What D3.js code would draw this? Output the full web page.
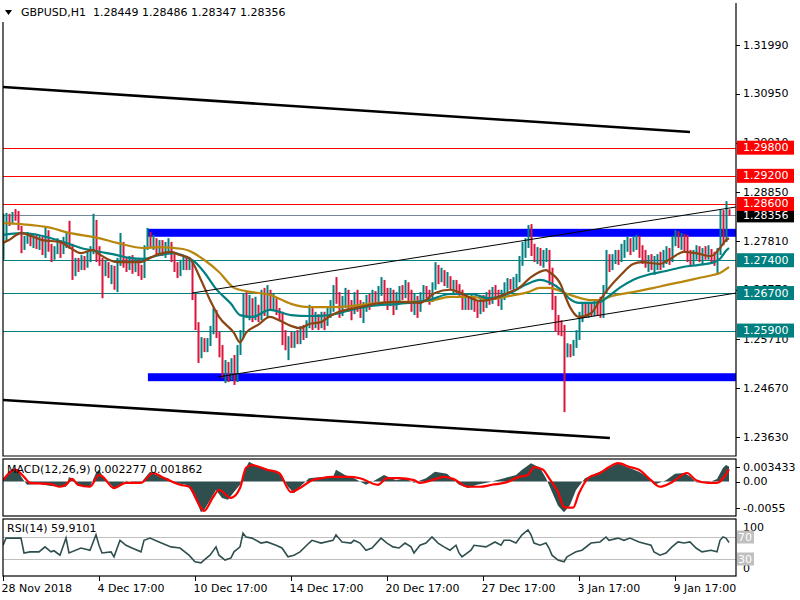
<!DOCTYPE html>
<html><head><meta charset="utf-8">
<script src="https://cdn.jsdelivr.net/npm/d3@7"></script>
<style>
body{margin:0;background:#fff}
svg{display:block}
text{font-family:"DejaVu Sans",sans-serif;font-size:11px}
</style>
</head><body>
<svg id="c" width="800" height="600"></svg>
<script>
// ---------- DATA ----------
const symbolTitle = "GBPUSD,H1  1.28449 1.28486 1.28347 1.28356";
const macdTitle = "MACD(12,26,9) 0.002277 0.001862";
const rsiTitle = "RSI(14) 59.9101";
const timeLabels = ["28 Nov 2018","4 Dec 17:00","10 Dec 17:00","14 Dec 17:00","20 Dec 17:00","27 Dec 17:00","3 Jan 17:00","9 Jan 17:00"];
const timeLabelBars = [0,32,64,96,128,160,192,224];
const priceTicks = [1.31990,1.30950,1.29910,1.28850,1.27810,1.26770,1.25710,1.24670,1.23630];
const redLevels = [1.29800,1.29200,1.28600];
const tealLevels = [1.27400,1.26700,1.25900];
const bidPrice = 1.28356;
// blue zones: [upper price, lower price, start bar]
const zones = [[1.2807,1.2790,48.3],[1.2499,1.2482,48.3]];
// trend lines: [[bar, price],[bar, price], thick?]
const trendLines = [
  [[0,1.31094],[229,1.30135],1],
  [[0,1.24419],[202.3,1.23609],1],
  [[63,1.2670],[244.3,1.28535],0],
  [[71.7,1.2491],[244.3,1.2670],0]
];
// candles [open, high, low, close], one per 3 chart pixels
const candles = [
[1.2751,1.2839,1.2741,1.2783],[1.2783,1.2841,1.2779,1.2830],[1.2830,1.2839,1.2813,1.2822],[1.2822,1.2843,1.2817,1.2837],[1.2837,1.2849,1.2824,1.2830],
[1.2830,1.2845,1.2804,1.2809],[1.2809,1.2813,1.2755,1.2766],[1.2766,1.2792,1.2762,1.2783],[1.2783,1.2800,1.2775,1.2792],[1.2792,1.2798,1.2770,1.2779],
[1.2779,1.2796,1.2766,1.2787],[1.2787,1.2794,1.2764,1.2772],[1.2772,1.2792,1.2762,1.2783],[1.2783,1.2790,1.2751,1.2762],[1.2762,1.2809,1.2745,1.2800],
[1.2800,1.2804,1.2758,1.2766],[1.2766,1.2775,1.2736,1.2749],[1.2749,1.2770,1.2741,1.2762],[1.2762,1.2787,1.2753,1.2775],[1.2775,1.2783,1.2745,1.2758],
[1.2758,1.2790,1.2753,1.2779],[1.2779,1.2798,1.2766,1.2787],[1.2787,1.2824,1.2764,1.2770],[1.2770,1.2775,1.2698,1.2715],[1.2715,1.2745,1.2706,1.2736],
[1.2736,1.2745,1.2715,1.2724],[1.2724,1.2751,1.2719,1.2741],[1.2741,1.2749,1.2719,1.2728],[1.2728,1.2758,1.2724,1.2749],[1.2749,1.2770,1.2736,1.2762],
[1.2762,1.2839,1.2753,1.2822],[1.2822,1.2826,1.2736,1.2762],[1.2762,1.2770,1.2728,1.2736],[1.2736,1.2745,1.2659,1.2719],[1.2719,1.2741,1.2706,1.2732],
[1.2732,1.2736,1.2702,1.2715],[1.2715,1.2730,1.2689,1.2724],[1.2724,1.2728,1.2677,1.2693],[1.2693,1.2745,1.2672,1.2736],[1.2736,1.2798,1.2728,1.2775],
[1.2775,1.2779,1.2724,1.2736],[1.2736,1.2745,1.2715,1.2728],[1.2728,1.2749,1.2719,1.2741],[1.2741,1.2751,1.2711,1.2724],[1.2724,1.2745,1.2715,1.2736],
[1.2736,1.2745,1.2706,1.2719],[1.2719,1.2730,1.2698,1.2711],[1.2711,1.2772,1.2702,1.2766],[1.2766,1.2809,1.2762,1.2787],[1.2787,1.2800,1.2766,1.2775],
[1.2775,1.2794,1.2762,1.2783],[1.2783,1.2787,1.2753,1.2766],[1.2766,1.2783,1.2751,1.2775],[1.2775,1.2783,1.2749,1.2762],[1.2762,1.2779,1.2745,1.2770],
[1.2770,1.2787,1.2758,1.2775],[1.2775,1.2779,1.2736,1.2745],[1.2745,1.2758,1.2715,1.2728],[1.2728,1.2736,1.2702,1.2715],[1.2715,1.2741,1.2706,1.2732],
[1.2732,1.2751,1.2719,1.2741],[1.2741,1.2749,1.2719,1.2728],[1.2728,1.2747,1.2719,1.2736],[1.2736,1.2741,1.2655,1.2664],[1.2664,1.2668,1.2591,1.2602],
[1.2602,1.2608,1.2521,1.2538],[1.2538,1.2576,1.2531,1.2570],[1.2570,1.2574,1.2544,1.2553],[1.2553,1.2574,1.2544,1.2565],[1.2565,1.2600,1.2557,1.2591],
[1.2591,1.2638,1.2582,1.2630],[1.2630,1.2634,1.2574,1.2580],[1.2580,1.2587,1.2533,1.2544],[1.2544,1.2559,1.2489,1.2501],[1.2501,1.2527,1.2478,1.2516],
[1.2516,1.2523,1.2480,1.2495],[1.2495,1.2531,1.2484,1.2510],[1.2510,1.2538,1.2474,1.2489],[1.2489,1.2559,1.2480,1.2548],[1.2548,1.2591,1.2538,1.2580],
[1.2580,1.2670,1.2574,1.2659],[1.2659,1.2672,1.2617,1.2634],[1.2634,1.2666,1.2612,1.2651],[1.2651,1.2659,1.2608,1.2621],[1.2621,1.2662,1.2612,1.2634],
[1.2634,1.2645,1.2608,1.2617],[1.2617,1.2677,1.2612,1.2655],[1.2655,1.2681,1.2621,1.2630],[1.2630,1.2687,1.2617,1.2664],[1.2664,1.2677,1.2634,1.2645],
[1.2645,1.2668,1.2634,1.2655],[1.2655,1.2659,1.2623,1.2630],[1.2630,1.2638,1.2612,1.2621],[1.2621,1.2630,1.2559,1.2574],[1.2574,1.2591,1.2548,1.2559],
[1.2559,1.2578,1.2527,1.2570],[1.2570,1.2587,1.2553,1.2559],[1.2559,1.2587,1.2553,1.2578],[1.2578,1.2591,1.2561,1.2570],[1.2570,1.2600,1.2561,1.2587],
[1.2587,1.2602,1.2570,1.2578],[1.2578,1.2612,1.2574,1.2602],[1.2602,1.2645,1.2595,1.2634],[1.2634,1.2638,1.2591,1.2608],[1.2608,1.2630,1.2595,1.2617],
[1.2617,1.2625,1.2591,1.2604],[1.2604,1.2630,1.2595,1.2621],[1.2621,1.2630,1.2591,1.2608],[1.2608,1.2638,1.2600,1.2625],[1.2625,1.2655,1.2617,1.2642],
[1.2642,1.2687,1.2630,1.2677],[1.2677,1.2704,1.2647,1.2655],[1.2655,1.2672,1.2617,1.2634],[1.2634,1.2664,1.2621,1.2651],[1.2651,1.2681,1.2638,1.2668],
[1.2668,1.2677,1.2630,1.2642],[1.2642,1.2655,1.2612,1.2630],[1.2630,1.2672,1.2625,1.2655],[1.2655,1.2677,1.2630,1.2642],[1.2642,1.2655,1.2617,1.2630],
[1.2630,1.2651,1.2606,1.2638],[1.2638,1.2666,1.2630,1.2655],[1.2655,1.2668,1.2634,1.2647],[1.2647,1.2677,1.2642,1.2664],[1.2664,1.2674,1.2645,1.2655],
[1.2655,1.2685,1.2651,1.2677],[1.2677,1.2704,1.2664,1.2689],[1.2689,1.2698,1.2651,1.2664],[1.2664,1.2681,1.2634,1.2655],[1.2655,1.2681,1.2642,1.2668],
[1.2668,1.2677,1.2623,1.2642],[1.2642,1.2672,1.2634,1.2659],[1.2659,1.2685,1.2651,1.2672],[1.2672,1.2687,1.2655,1.2664],[1.2664,1.2698,1.2659,1.2685],
[1.2685,1.2693,1.2647,1.2659],[1.2659,1.2677,1.2630,1.2642],[1.2642,1.2668,1.2623,1.2655],[1.2655,1.2664,1.2617,1.2634],[1.2634,1.2672,1.2630,1.2664],
[1.2664,1.2687,1.2655,1.2677],[1.2677,1.2685,1.2659,1.2668],[1.2668,1.2677,1.2645,1.2659],[1.2659,1.2693,1.2651,1.2681],[1.2681,1.2736,1.2677,1.2715],
[1.2715,1.2730,1.2689,1.2702],[1.2702,1.2724,1.2693,1.2711],[1.2711,1.2719,1.2685,1.2693],[1.2693,1.2715,1.2681,1.2702],[1.2702,1.2706,1.2677,1.2685],
[1.2685,1.2698,1.2668,1.2693],[1.2693,1.2698,1.2668,1.2681],[1.2681,1.2689,1.2664,1.2672],[1.2672,1.2677,1.2634,1.2647],[1.2647,1.2664,1.2634,1.2655],
[1.2655,1.2662,1.2634,1.2642],[1.2642,1.2668,1.2634,1.2659],[1.2659,1.2664,1.2630,1.2647],[1.2647,1.2655,1.2617,1.2634],[1.2634,1.2664,1.2625,1.2655],
[1.2655,1.2666,1.2630,1.2647],[1.2647,1.2672,1.2638,1.2664],[1.2664,1.2677,1.2645,1.2655],[1.2655,1.2683,1.2647,1.2672],[1.2672,1.2687,1.2655,1.2664],
[1.2664,1.2677,1.2642,1.2651],[1.2651,1.2677,1.2634,1.2664],[1.2664,1.2693,1.2655,1.2681],[1.2681,1.2702,1.2672,1.2689],[1.2689,1.2700,1.2677,1.2685],
[1.2685,1.2704,1.2677,1.2693],[1.2693,1.2711,1.2681,1.2702],[1.2702,1.2749,1.2693,1.2736],[1.2736,1.2779,1.2728,1.2762],[1.2762,1.2787,1.2745,1.2783],
[1.2783,1.2815,1.2766,1.2804],[1.2804,1.2817,1.2749,1.2762],[1.2762,1.2775,1.2736,1.2745],[1.2745,1.2768,1.2732,1.2758],[1.2758,1.2766,1.2728,1.2741],
[1.2741,1.2762,1.2724,1.2749],[1.2749,1.2766,1.2736,1.2758],[1.2758,1.2762,1.2687,1.2715],[1.2715,1.2724,1.2634,1.2655],[1.2655,1.2664,1.2587,1.2617],
[1.2617,1.2623,1.2580,1.2602],[1.2602,1.2612,1.2578,1.2591],[1.2591,1.2602,1.2416,1.2544],[1.2544,1.2563,1.2533,1.2553],[1.2553,1.2561,1.2533,1.2544],
[1.2544,1.2570,1.2536,1.2561],[1.2561,1.2591,1.2553,1.2578],[1.2578,1.2630,1.2570,1.2617],[1.2617,1.2649,1.2608,1.2634],[1.2634,1.2647,1.2617,1.2625],
[1.2625,1.2651,1.2617,1.2638],[1.2638,1.2651,1.2621,1.2630],[1.2630,1.2655,1.2621,1.2642],[1.2642,1.2655,1.2621,1.2634],[1.2634,1.2662,1.2617,1.2625],
[1.2625,1.2687,1.2617,1.2677],[1.2677,1.2762,1.2668,1.2749],[1.2749,1.2753,1.2715,1.2732],[1.2732,1.2753,1.2719,1.2745],[1.2745,1.2762,1.2732,1.2753],
[1.2753,1.2762,1.2730,1.2741],[1.2741,1.2775,1.2736,1.2762],[1.2762,1.2783,1.2745,1.2770],[1.2770,1.2790,1.2758,1.2783],[1.2783,1.2787,1.2751,1.2766],
[1.2766,1.2790,1.2758,1.2779],[1.2779,1.2794,1.2762,1.2787],[1.2787,1.2792,1.2745,1.2762],[1.2762,1.2772,1.2732,1.2749],[1.2749,1.2762,1.2724,1.2736],
[1.2736,1.2751,1.2715,1.2745],[1.2745,1.2753,1.2719,1.2728],[1.2728,1.2749,1.2709,1.2736],[1.2736,1.2753,1.2719,1.2749],[1.2749,1.2758,1.2719,1.2732],
[1.2732,1.2762,1.2724,1.2745],[1.2745,1.2770,1.2732,1.2753],[1.2753,1.2766,1.2730,1.2741],[1.2741,1.2792,1.2736,1.2783],[1.2783,1.2804,1.2770,1.2792],
[1.2792,1.2802,1.2766,1.2779],[1.2779,1.2798,1.2762,1.2787],[1.2787,1.2796,1.2758,1.2770],[1.2770,1.2794,1.2736,1.2749],[1.2749,1.2762,1.2726,1.2736],
[1.2736,1.2762,1.2730,1.2753],[1.2753,1.2772,1.2741,1.2762],[1.2762,1.2770,1.2736,1.2749],[1.2749,1.2766,1.2730,1.2758],[1.2758,1.2770,1.2741,1.2749],
[1.2749,1.2772,1.2741,1.2762],[1.2762,1.2764,1.2736,1.2749],[1.2749,1.2758,1.2728,1.2736],[1.2736,1.2766,1.2709,1.2762],[1.2762,1.2847,1.2751,1.2843],
[1.2843,1.2847,1.2772,1.2783],[1.2783,1.2866,1.2779,1.2845],[1.28449,1.28486,1.28347,1.28356]
];
// moving averages [bar, price]
const maFast = [[0,1.2777],[2,1.2783],[6,1.2798],[10,1.2790],[13,1.2783],[19,1.2779],[22,1.2768],[26,1.2755],[30,1.2762],[32,1.2753],[38,1.2736],[41,1.2736],[46,1.2736],[49,1.2745],[52,1.2753],[56,1.2758],[59,1.2751],[62,1.2745],[66,1.2698],[69,1.2655],[72,1.2619],[77,1.2585],[79,1.2565],[81,1.2585],[85,1.2602],[89,1.2619],[92,1.2612],[96,1.2600],[99,1.2595],[102,1.2604],[106,1.2608],[109,1.2621],[112,1.2630],[119,1.2640],[126,1.2649],[132,1.2651],[139,1.2649],[144,1.2670],[149,1.2677],[152,1.2672],[156,1.2659],[159,1.2653],[164,1.2659],[169,1.2672],[172,1.2681],[176,1.2704],[181,1.2719],[182,1.2715],[186,1.2687],[187,1.2670],[189,1.2640],[192,1.2619],[196,1.2627],[199,1.2655],[202,1.2681],[206,1.2709],[210,1.2732],[213,1.2736],[219,1.2732],[222,1.2741],[227,1.2758],[231,1.2755],[236,1.2749],[239,1.2766],[241,1.2783],[242,1.2787]];
const maMid = [[0,1.2794],[6,1.2798],[10,1.2796],[16,1.2787],[21,1.2777],[26,1.2766],[32,1.2758],[38,1.2751],[42,1.2745],[47,1.2743],[52,1.2751],[57,1.2755],[61,1.2747],[64,1.2736],[67,1.2715],[71,1.2679],[76,1.2647],[79,1.2623],[83,1.2619],[89,1.2634],[96,1.2623],[102,1.2621],[109,1.2623],[116,1.2634],[122,1.2642],[132,1.2647],[142,1.2655],[149,1.2668],[156,1.2668],[162,1.2659],[169,1.2670],[174,1.2687],[179,1.2698],[182,1.2693],[186,1.2677],[189,1.2657],[192,1.2649],[196,1.2649],[199,1.2651],[202,1.2664],[206,1.2683],[210,1.2698],[215,1.2709],[221,1.2717],[227,1.2726],[232,1.2730],[237,1.2736],[239,1.2743],[241,1.2760],[242,1.2766]];
const maSlow = [[0,1.2819],[6,1.2817],[16,1.2809],[21,1.2800],[32,1.2787],[38,1.2777],[47,1.2766],[52,1.2768],[60,1.2764],[62,1.2760],[67,1.2741],[72,1.2715],[77,1.2681],[81,1.2674],[89,1.2666],[96,1.2647],[102,1.2640],[109,1.2640],[116,1.2642],[122,1.2647],[132,1.2651],[142,1.2653],[149,1.2662],[156,1.2662],[162,1.2657],[169,1.2664],[175,1.2672],[179,1.2681],[182,1.2681],[189,1.2666],[196,1.2655],[199,1.2655],[203,1.2664],[210,1.2672],[217,1.2681],[221,1.2687],[227,1.2695],[232,1.2702],[237,1.2709],[239,1.2713],[241,1.2721],[242,1.2726]];
// MACD main (histogram) and signal [bar, value]
const macdMain = [[0,0.0005],[2,0.0012],[4,0.0018],[5,0.0019],[6,0.0008],[7,0.0001],[8,-0.0005],[12,-0.0004],[16,-0.0007],[19,-0.0008],[21,-0.0008],[22,0.0007],[24,0.0002],[25,-0.0007],[29,-0.0008],[31,0.0013],[32,0.0018],[33,0.0010],[37,-0.0010],[38,-0.0008],[41,0.0001],[44,-0.0002],[46,-0.0002],[49,0.0015],[52,0.0008],[55,0.0005],[57,-0.0002],[61,-0.0005],[62,-0.0008],[65,-0.0036],[66,-0.0047],[67,-0.0044],[71,-0.0013],[73,-0.0025],[75,-0.0028],[77,-0.0016],[79,-0.0005],[81,0.0021],[82,0.0030],[84,0.0025],[87,0.0021],[91,0.0015],[93,0.0008],[95,-0.0008],[97,-0.0018],[99,-0.0008],[102,0.0005],[106,0.0007],[110,0.0007],[111,0.0018],[114,0.0010],[117,0.0005],[121,-0.0005],[124,0.0002],[127,0.0010],[131,0.0002],[134,0.0005],[137,-0.0002],[141,0.0005],[144,0.0015],[148,0.0012],[152,-0.0005],[155,-0.0010],[158,-0.0005],[162,-0.0001],[167,0.0005],[171,0.0010],[173,0.0018],[176,0.0028],[179,0.0021],[181,0.0005],[183,-0.0016],[185,-0.0037],[187,-0.0047],[189,-0.0036],[191,-0.0013],[194,0.0005],[198,0.0013],[202,0.0021],[205,0.0028],[208,0.0022],[212,0.0015],[215,0.0007],[217,-0.0005],[221,0.0002],[224,0.0012],[227,0.0013],[229,0.0008],[231,-0.0001],[235,-0.0002],[238,0.0004],[240,0.0021],[241,0.0025],[242,0.002277]];
const macdSignal = [[0,0.0002],[4,0.0018],[7,0.0007],[9,-0.0002],[12,-0.0003],[16,-0.0004],[19,-0.0008],[21,-0.0005],[23,0.0004],[25,-0.0005],[29,-0.0008],[32,0.0010],[33,0.0008],[37,-0.0010],[41,-0.0002],[46,-0.0002],[50,0.0013],[53,0.0007],[59,-0.0005],[62,-0.0008],[66,-0.0040],[67,-0.0045],[70,-0.0024],[72,-0.0013],[76,-0.0025],[79,-0.0010],[81,0.0021],[83,0.0025],[88,0.0018],[92,0.0013],[96,-0.0016],[99,-0.0010],[103,0.0002],[106,0.0005],[110,0.0007],[115,0.0007],[119,0.0005],[125,-0.0005],[128,0.0005],[132,0.0005],[137,0.0002],[139,-0.0002],[143,0.0002],[147,0.0007],[150,0.0004],[155,-0.0008],[159,-0.0008],[163,-0.0005],[168,-0.0001],[172,0.0007],[175,0.0010],[177,0.0022],[180,0.0018],[182,0.0005],[185,-0.0016],[187,-0.0039],[190,-0.0040],[192,-0.0018],[195,0.0005],[199,0.0013],[202,0.0022],[205,0.0028],[209,0.0022],[212,0.0018],[216,0.0002],[219,-0.0008],[223,-0.0001],[228,0.0013],[231,0.0002],[235,-0.0002],[238,-0.0002],[242,0.001862]];
const macdTicks = ["0.003433","0.00","-0.0055"];
// RSI [bar, value]
const rsiValues = [[0,55],[1,68],[4,68],[6,68],[7,41],[9,43],[12,43],[14,52],[16,43],[17,45],[19,37],[21,68],[22,41],[26,50],[29,46],[31,74],[32,55],[33,41],[36,43],[37,34],[39,64],[41,55],[43,50],[46,43],[47,64],[49,68],[52,61],[56,52],[59,50],[62,37],[64,25],[66,23],[67,28],[69,37],[71,52],[72,37],[74,28],[76,32],[77,43],[79,52],[80,77],[81,70],[83,68],[86,59],[88,61],[91,55],[93,50],[95,34],[97,37],[99,43],[102,59],[103,64],[106,59],[110,64],[111,74],[113,61],[116,59],[117,64],[119,59],[121,46],[123,50],[126,68],[128,59],[130,52],[132,50],[134,59],[136,52],[137,41],[139,55],[141,59],[143,70],[145,59],[147,52],[149,46],[151,55],[152,41],[153,34],[156,46],[157,55],[161,52],[164,61],[166,55],[167,64],[169,64],[171,59],[173,74],[175,83],[176,74],[177,59],[179,55],[181,59],[182,50],[183,37],[185,28],[187,25],[188,34],[189,37],[191,43],[193,46],[196,59],[199,61],[201,70],[202,64],[205,68],[207,64],[209,68],[212,61],[216,55],[217,43],[219,37],[221,41],[223,52],[225,61],[227,59],[229,61],[231,50],[233,43],[236,46],[238,43],[239,64],[240,70],[241,68],[242,59.9101]];
const rsiLevels = [70,30];
const rsiTicks = [100,0];

// ---------- LAYOUT ----------
const svg = d3.select("#c");
const L = 3, R = 736;
const mainTop = 0, mainBot = 456, macdTop = 459, macdBot = 516, rsiTop = 519, rsiBot = 576;
const bull = "#008080", bear = "#dc143c";

const x = d3.scaleLinear().domain([0, 242]).range([3, 729]);
const yP = d3.scaleLinear().domain([1.2363, 1.3199]).range([437, 45]);
const yM = d3.scaleLinear().domain([0, 0.003433]).range([481.5, 459]);
const yR = d3.scaleLinear().domain([0, 100]).range([575.5, 520.5]);

const defs = svg.append("defs");
function clip(id, y0, y1){
  defs.append("clipPath").attr("id", id).append("rect")
    .attr("x", L).attr("y", y0).attr("width", R - L).attr("height", y1 - y0);
}
clip("cm", mainTop, mainBot); clip("cd", macdTop, macdBot); clip("cr", rsiTop, rsiBot);

// ---------- MAIN PANEL ----------
const gm = svg.append("g").attr("clip-path", "url(#cm)");
gm.selectAll("line.red").data(redLevels).join("line")
  .attr("x1", L).attr("x2", R).attr("y1", d => Math.round(yP(d)) + 0.5).attr("y2", d => Math.round(yP(d)) + 0.5)
  .attr("stroke", "#ff0000").attr("stroke-width", 1);
gm.selectAll("line.teal").data(tealLevels).join("line")
  .attr("x1", L).attr("x2", R).attr("y1", d => Math.round(yP(d)) + 0.5).attr("y2", d => Math.round(yP(d)) + 0.5)
  .attr("stroke", "#008080").attr("stroke-width", 1);
gm.append("line").attr("x1", L).attr("x2", R)
  .attr("y1", Math.round(yP(bidPrice)) + 0.5).attr("y2", Math.round(yP(bidPrice)) + 0.5)
  .attr("stroke", "#778899").attr("stroke-width", 1);
gm.selectAll("rect.zone").data(zones).join("rect")
  .attr("x", d => x(d[2])).attr("width", d => R - x(d[2]))
  .attr("y", d => yP(d[0])).attr("height", d => yP(d[1]) - yP(d[0]))
  .attr("fill", "#0000ff");
gm.selectAll("rect.cdl").data(candles).join("rect")
  .attr("x", (d, i) => x(i) - 0.5).attr("width", 2)
  .attr("y", d => yP(d[1])).attr("height", d => Math.max(1, yP(d[2]) - yP(d[1])))
  .attr("fill", d => d[3] >= d[0] ? bull : bear);
const maLine = d3.line().x(d => x(d[0])).y(d => yP(d[1])).curve(d3.curveMonotoneX);
[[maSlow, "#b8860b"], [maMid, "#008080"], [maFast, "#8b4513"]].forEach(([data, col]) => {
  gm.append("path").attr("d", maLine(data)).attr("fill", "none")
    .attr("stroke", col).attr("stroke-width", 2.2);
});
gm.selectAll("line.tl").data(trendLines).join("line")
  .attr("x1", d => x(d[0][0])).attr("y1", d => yP(d[0][1]))
  .attr("x2", d => x(d[1][0])).attr("y2", d => yP(d[1][1]))
  .attr("stroke", "#000").attr("stroke-width", d => d[2] ? 2.6 : 1);

// ---------- MACD PANEL ----------
const gd = svg.append("g").attr("clip-path", "url(#cd)");
gd.append("path")
  .attr("d", d3.area().x(d => x(d[0])).y0(yM(0)).y1(d => yM(d[1]))(macdMain))
  .attr("fill", "#2f4f4f");
gd.append("path")
  .attr("d", d3.line().x(d => x(d[0])).y(d => yM(d[1])).curve(d3.curveMonotoneX)(macdSignal))
  .attr("fill", "none").attr("stroke", "#ff0000").attr("stroke-width", 2.2);

// ---------- RSI PANEL ----------
const gr = svg.append("g").attr("clip-path", "url(#cr)");
gr.selectAll("line.lv").data(rsiLevels).join("line")
  .attr("x1", L).attr("x2", R).attr("y1", d => Math.round(yR(d)) + 0.5).attr("y2", d => Math.round(yR(d)) + 0.5)
  .attr("stroke", "#c0c0c0");
gr.append("path")
  .attr("d", d3.line().x(d => x(d[0])).y(d => yR(d[1]))(rsiValues))
  .attr("fill", "none").attr("stroke", "#2f4f4f").attr("stroke-width", 1.6);

// ---------- FRAMES ----------
const fr = svg.append("g").attr("fill", "none").attr("stroke", "#000").attr("stroke-width", 1.2);
fr.append("path").attr("d", `M${L},22V${mainBot}H${R}V3`);
fr.append("rect").attr("x", L).attr("y", macdTop).attr("width", R - L).attr("height", macdBot - macdTop);
fr.append("rect").attr("x", L).attr("y", rsiTop).attr("width", R - L).attr("height", rsiBot - rsiTop);

// titles
svg.append("path").attr("d", "M5,10L12,10L8.5,15Z").attr("fill", "#000");
svg.append("text").attr("x", 21).attr("y", 12).attr("dominant-baseline", "central")
  .style("white-space", "pre").text(symbolTitle);
svg.append("text").attr("x", 7).attr("y", 469).attr("dominant-baseline", "central").text(macdTitle);
svg.append("text").attr("x", 7).attr("y", 528).attr("dominant-baseline", "central").text(rsiTitle);

// ---------- PRICE AXIS ----------
const ax = svg.append("g");
ax.selectAll("line.tk").data(priceTicks).join("line")
  .attr("x1", R).attr("x2", R + 4).attr("y1", d => Math.round(yP(d)) + 0.5).attr("y2", d => Math.round(yP(d)) + 0.5)
  .attr("stroke", "#000");
ax.selectAll("text.tk").data(priceTicks).join("text")
  .attr("x", 743).attr("y", d => yP(d)).attr("dominant-baseline", "central")
  .text(d => d3.format(".5f")(d));
function priceBox(p, bg, fg){
  const yy = yP(p);
  ax.append("rect").attr("x", 737).attr("y", yy - 7).attr("width", 57).attr("height", 14).attr("fill", bg);
  ax.append("text").attr("x", 743).attr("y", yy).attr("dominant-baseline", "central")
    .attr("fill", fg).text(d3.format(".5f")(p));
}
priceBox(bidPrice, "#000", "#fff");
redLevels.forEach(p => priceBox(p, "#ff0000", "#fff"));
tealLevels.forEach(p => priceBox(p, "#008080", "#fff"));

// MACD axis
const mY = [yM(0.003433) + 8, yM(0), macdBot - 8];
macdTicks.forEach((t, k) => {
  ax.append("line").attr("x1", R).attr("x2", R + 4).attr("y1", Math.round(mY[k]) + 0.5).attr("y2", Math.round(mY[k]) + 0.5).attr("stroke", "#000");
  ax.append("text").attr("x", 743).attr("y", mY[k]).attr("dominant-baseline", "central").text(t);
});
// RSI axis
[[rsiTicks[0], yR(100) + 6.5], [rsiTicks[1], yR(0) - 7.5]].forEach(([t, yy]) => {
  ax.append("text").attr("x", 743).attr("y", yy).attr("dominant-baseline", "central").text(t);
});
rsiLevels.forEach(v => {
  const yy = yR(v);
  ax.append("rect").attr("x", 737).attr("y", yy - 6.5).attr("width", 17).attr("height", 13).attr("fill", "#c0c0c0");
  ax.append("text").attr("x", 738).attr("y", yy).attr("dominant-baseline", "central").attr("fill", "#fff").text(v);
});

// ---------- TIME AXIS ----------
const tx = svg.append("g");
tx.selectAll("line").data(timeLabelBars).join("line")
  .attr("x1", d => Math.round(x(d)) + 0.5).attr("x2", d => Math.round(x(d)) + 0.5)
  .attr("y1", rsiBot).attr("y2", rsiBot + 5).attr("stroke", "#000");
tx.selectAll("text").data(timeLabels).join("text")
  .attr("x", (d, i) => x(timeLabelBars[i]) - 1.5).attr("y", 588).attr("dominant-baseline", "central")
  .text(d => d);
</script>
</body></html>
